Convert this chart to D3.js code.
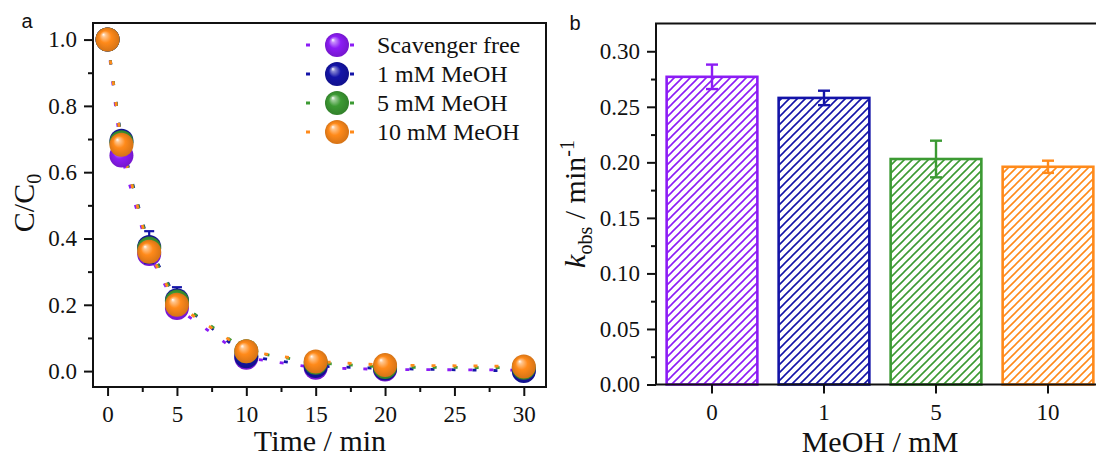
<!DOCTYPE html>
<html>
<head>
<meta charset="utf-8">
<script src="https://cdn.jsdelivr.net/npm/d3@7"></script>
<style>
  body { margin: 0; background: #fff; }
  svg text { font-family: "Liberation Serif", "Times New Roman", serif; fill: #111; }
</style>
</head>
<body>
<svg width="1096" height="455"></svg>
<script>
// panel a: degradation curves
var times = [0, 1, 3, 5, 10, 15, 20, 30];
var seriesNames = ["Scavenger free", "1 mM MeOH", "5 mM MeOH", "10 mM MeOH"];
var scavengerFree = [1.0, 0.650, 0.353, 0.190, 0.040, 0.010, 0.005, 0.003];
var meoh1 = [1.0, 0.695, 0.374, 0.214, 0.045, 0.015, 0.008, 0.000];
var meoh5 = [1.0, 0.690, 0.370, 0.210, 0.060, 0.025, 0.012, 0.010];
var meoh10 = [1.0, 0.683, 0.360, 0.200, 0.060, 0.029, 0.018, 0.014];
var errFree = [0, 0.010, 0.010, 0.010, 0.010, 0.005, 0.005, 0.005];
var err1 = [0, 0.020, 0.048, 0.039, 0.010, 0.005, 0.005, 0.005];
var err5 = [0, 0.020, 0.020, 0.020, 0.015, 0.010, 0.005, 0.005];
var err10 = [0, 0.015, 0.020, 0.020, 0.010, 0.010, 0.005, 0.005];
var colors = ["#8c1cf5", "#1414a8", "#3c9a33", "#ff8a1a"];
var timeTicks = [0, 5, 10, 15, 20, 25, 30];
var ratioTicks = [0.0, 0.2, 0.4, 0.6, 0.8, 1.0];

// panel b: rate constants
var meohLabels = ["0", "1", "5", "10"];
var kobs = [0.277, 0.258, 0.203, 0.196];
var kobsErr = [0.011, 0.0065, 0.0165, 0.0055];
var kTicks = [0.00, 0.05, 0.10, 0.15, 0.20, 0.25, 0.30];

var values = [scavengerFree, meoh1, meoh5, meoh10];
var errors = [errFree, err1, err5, err10];
var serif = "'Liberation Serif', 'Times New Roman', serif";

var svg = d3.select("svg");
var defs = svg.append("defs");

colors.forEach(function(c, i) {
  var g = defs.append("radialGradient").attr("id", "ball" + i)
      .attr("cx", "50%").attr("cy", "50%").attr("r", "50%")
      .attr("fx", "32%").attr("fy", "28%");
  g.append("stop").attr("offset", "0%").attr("stop-color", "#fff");
  g.append("stop").attr("offset", "16%").attr("stop-color", d3.interpolateRgb(c, "#fff")(0.5));
  g.append("stop").attr("offset", "50%").attr("stop-color", c);
  g.append("stop").attr("offset", "100%").attr("stop-color", d3.color(c).darker(0.5));

  var p = defs.append("pattern").attr("id", "hatch" + i)
      .attr("patternUnits", "userSpaceOnUse")
      .attr("width", 8).attr("height", 8);
  p.append("path").attr("d", "M-2,2L2,-2M0,8L8,0M6,10L10,6")
      .attr("stroke", c).attr("stroke-width", 1.6);
});

function styleAxis(g, size) {
  g.select(".domain").remove();
  g.selectAll(".tick line").attr("stroke", "#111").attr("stroke-width", 2);
  g.attr("font-family", null).attr("font-size", null);
  g.selectAll(".tick text").style("font-family", serif).style("font-size", size + "px")
      .attr("fill", "#111");
}

// ---------- panel a ----------
var x = d3.scaleLinear().domain([-1.05, 31.6]).range([93, 546]);
var y = d3.scaleLinear().domain([-0.048, 1.05]).range([387, 23]);

var ga = svg.append("g");

ga.append("g").attr("transform", "translate(0," + y.range()[0] + ")")
    .call(d3.axisBottom(x).tickValues(d3.range(2.5, 30, 5)).tickSize(5).tickFormat(""))
    .call(styleAxis, 23);
ga.append("g").attr("transform", "translate(0," + y.range()[0] + ")")
    .call(d3.axisBottom(x).tickValues(timeTicks).tickSize(9).tickPadding(10).tickFormat(d3.format("d")))
    .call(styleAxis, 23);
ga.append("g").attr("transform", "translate(" + x.range()[0] + ",0)")
    .call(d3.axisLeft(y).tickValues(d3.range(0.1, 1, 0.2)).tickSize(5).tickFormat(""))
    .call(styleAxis, 23);
ga.append("g").attr("transform", "translate(" + x.range()[0] + ",0)")
    .call(d3.axisLeft(y).tickValues(ratioTicks).tickSize(9).tickPadding(7).tickFormat(d3.format(".1f")))
    .call(styleAxis, 23);

var line = d3.line()
    .x(function(d) { return x(d.t); })
    .y(function(d) { return y(d.v); });

var seriesData = values.map(function(vals, i) {
  return times.map(function(t, j) { return {t: t, v: vals[j], e: errors[i][j]}; });
});

ga.selectAll("path.fit")
  .data(seriesData)
  .enter().append("path")
    .attr("class", "fit")
    .attr("d", line)
    .attr("fill", "none")
    .attr("stroke", function(d, i) { return colors[i]; })
    .attr("stroke-width", 2.8)
    .attr("stroke-dasharray", "4,17");

seriesData.forEach(function(pts, i) {
  var s = ga.append("g").attr("stroke", colors[i]).attr("stroke-width", 2.2);
  var eb = s.selectAll("g.err").data(pts.filter(function(d) { return d.e > 0; }))
    .enter().append("g");
  eb.append("line")
      .attr("x1", function(d) { return x(d.t); }).attr("x2", function(d) { return x(d.t); })
      .attr("y1", function(d) { return y(d.v - d.e); }).attr("y2", function(d) { return y(d.v + d.e); });
  eb.append("line")
      .attr("x1", function(d) { return x(d.t) - 5; }).attr("x2", function(d) { return x(d.t) + 5; })
      .attr("y1", function(d) { return y(d.v + d.e); }).attr("y2", function(d) { return y(d.v + d.e); });
  eb.append("line")
      .attr("x1", function(d) { return x(d.t) - 5; }).attr("x2", function(d) { return x(d.t) + 5; })
      .attr("y1", function(d) { return y(d.v - d.e); }).attr("y2", function(d) { return y(d.v - d.e); });
  s.selectAll("circle").data(pts).enter().append("circle")
      .attr("cx", function(d) { return x(d.t); })
      .attr("cy", function(d) { return y(d.v); })
      .attr("r", 12)
      .attr("stroke", "none")
      .attr("fill", "url(#ball" + i + ")");
});

ga.append("rect")
    .attr("x", x.range()[0]).attr("y", y.range()[1])
    .attr("width", x.range()[1] - x.range()[0])
    .attr("height", y.range()[0] - y.range()[1])
    .attr("fill", "none").attr("stroke", "#111").attr("stroke-width", 2);

// legend
var leg = ga.selectAll("g.leg").data(seriesNames).enter().append("g")
    .attr("transform", function(d, i) { return "translate(0," + (45 + i * 29) + ")"; });
leg.append("line").attr("x1", 306).attr("x2", 354)
    .attr("stroke", function(d, i) { return colors[i]; })
    .attr("stroke-width", 2.8).attr("stroke-dasharray", "4,40");
leg.append("circle").attr("cx", 337).attr("r", 12)
    .attr("fill", function(d, i) { return "url(#ball" + i + ")"; });
leg.append("text").attr("x", 377).attr("dy", "0.35em")
    .attr("font-size", 24).text(function(d) { return d; });

ga.append("text").attr("x", 320).attr("y", 451)
    .attr("text-anchor", "middle").attr("font-size", 30).text("Time / min");
var ytA = ga.append("text").attr("transform", "translate(34,203) rotate(-90)")
    .attr("text-anchor", "middle").attr("font-size", 30);
ytA.append("tspan").text("C/C");
ytA.append("tspan").attr("font-size", 20).attr("dy", 7).text("0");

svg.append("text").attr("x", 27).attr("y", 28).attr("text-anchor", "middle")
    .style("font-family", "'Liberation Sans', Arial, sans-serif")
    .attr("font-size", 20).text("a");

// ---------- panel b ----------
var xb = d3.scaleBand().domain(meohLabels).range([656, 1104])
    .paddingInner(0.19).paddingOuter(0.095);
var yb = d3.scaleLinear().domain([0, 0.325]).range([384.5, 23.5]);

var gb = svg.append("g");

gb.selectAll("rect.bar").data(kobs).enter().append("rect")
    .attr("class", "bar")
    .attr("x", function(d, i) { return xb(meohLabels[i]); })
    .attr("width", xb.bandwidth())
    .attr("y", function(d) { return yb(d); })
    .attr("height", function(d) { return yb(0) - yb(d); })
    .attr("fill", function(d, i) { return "url(#hatch" + i + ")"; })
    .attr("stroke", function(d, i) { return colors[i]; })
    .attr("stroke-width", 2.6);

var ebb = gb.selectAll("g.kerr").data(kobs).enter().append("g")
    .attr("stroke", function(d, i) { return colors[i]; })
    .attr("stroke-width", 2.4);
function cx(i) { return xb(meohLabels[i]) + xb.bandwidth() / 2; }
ebb.append("line")
    .attr("x1", function(d, i) { return cx(i); }).attr("x2", function(d, i) { return cx(i); })
    .attr("y1", function(d, i) { return yb(d - kobsErr[i]); })
    .attr("y2", function(d, i) { return yb(d + kobsErr[i]); });
ebb.append("line")
    .attr("x1", function(d, i) { return cx(i) - 6; }).attr("x2", function(d, i) { return cx(i) + 6; })
    .attr("y1", function(d, i) { return yb(d + kobsErr[i]); })
    .attr("y2", function(d, i) { return yb(d + kobsErr[i]); });
ebb.append("line")
    .attr("x1", function(d, i) { return cx(i) - 6; }).attr("x2", function(d, i) { return cx(i) + 6; })
    .attr("y1", function(d, i) { return yb(d - kobsErr[i]); })
    .attr("y2", function(d, i) { return yb(d - kobsErr[i]); });

gb.append("g").attr("transform", "translate(656,0)")
    .call(d3.axisLeft(yb).tickValues(d3.range(0.025, 0.32, 0.05)).tickSize(5).tickFormat(""))
    .call(styleAxis, 23);
gb.append("g").attr("transform", "translate(656,0)")
    .call(d3.axisLeft(yb).tickValues(kTicks).tickSize(9).tickPadding(7).tickFormat(d3.format(".2f")))
    .call(styleAxis, 23);
gb.append("g").attr("transform", "translate(0," + yb.range()[0] + ")")
    .call(d3.axisBottom(xb).tickSize(9).tickPadding(10))
    .call(styleAxis, 23);

gb.append("path")
    .attr("d", "M1096," + yb.range()[1] + "H656V" + yb.range()[0] + "H1096")
    .attr("fill", "none").attr("stroke", "#111").attr("stroke-width", 2);

gb.append("text").attr("x", 880).attr("y", 452)
    .attr("text-anchor", "middle").attr("font-size", 30).text("MeOH / mM");
var ytB = gb.append("text").attr("transform", "translate(585,204) rotate(-90)")
    .attr("text-anchor", "middle").attr("font-size", 30);
ytB.append("tspan").attr("font-style", "italic").text("k");
ytB.append("tspan").attr("font-size", 20).attr("dy", 7).text("obs");
ytB.append("tspan").attr("dy", -7).text(" / min");
ytB.append("tspan").attr("font-size", 20).attr("dy", -11).text("-1");

svg.append("text").attr("x", 575).attr("y", 30).attr("text-anchor", "middle")
    .style("font-family", "'Liberation Sans', Arial, sans-serif")
    .attr("font-size", 20).text("b");
</script>
</body>
</html>
